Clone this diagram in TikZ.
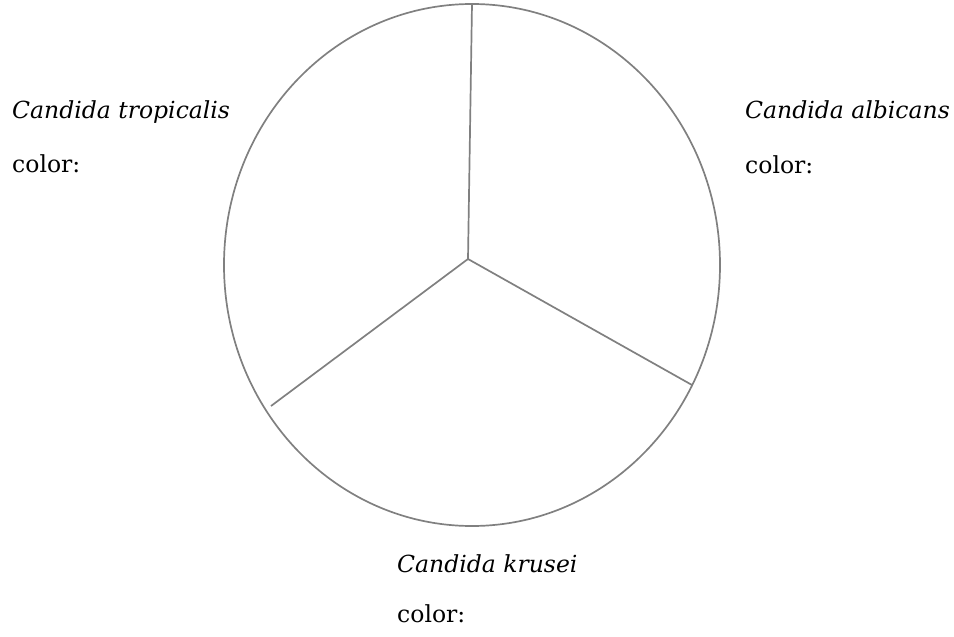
\documentclass[tikz,border=0pt]{standalone}
\usepackage{fontspec}
\setmainfont{DejaVu Serif}
\definecolor{linegray}{RGB}{128,128,128}
\begin{document}
\begin{tikzpicture}[x=1pt,y=-1pt,
  ring/.style={draw=linegray,line width=1.7pt},
  spoke/.style={draw=linegray,line width=1.7pt},
  lbl/.style={anchor=base west,inner sep=0pt,font=\fontsize{23.5}{28}\selectfont}]
\useasboundingbox (0,0) rectangle (954,637);
\draw[ring] (472,265) ellipse [x radius=248, y radius=261];
\coordinate (c) at (468,259);
\coordinate (t) at (472,4);
\coordinate (r) at (692,385);
\coordinate (l) at (271,406);
\draw[spoke] (t) -- (c);
\draw[spoke] (c) -- (r);
\draw[spoke] (c) -- (l);
\node[lbl] (n1) at (12,118) {\itshape Candida tropicalis};
\node[lbl] (n2) at (12,172) {color:};
\node[lbl] (n3) at (745,118) {\itshape Candida albicans};
\node[lbl] (n4) at (745,173) {color:};
\node[lbl] (n5) at (397,572) {\itshape Candida krusei};
\node[lbl] (n6) at (397,622) {color:};
\end{tikzpicture}
\end{document}
